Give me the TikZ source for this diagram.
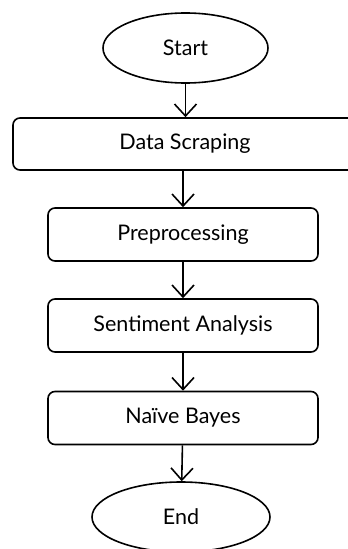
\documentclass[tikz,border=0pt]{standalone}
\usepackage{fontspec}
\setmainfont{Lato}
\usepackage{tikz}
\usetikzlibrary{arrows.meta,shapes.geometric}

\begin{document}
\begin{tikzpicture}[x=1pt,y=-1pt,line width=1.6pt,
  term/.style={ellipse,draw,minimum width=165pt,minimum height=70pt,inner sep=0pt,font=\fontsize{21.5}{25}\selectfont},
  proc/.style={rectangle,rounded corners=7pt,draw,minimum width=270pt,minimum height=53pt,inner sep=0pt,font=\fontsize{21.5}{25}\selectfont},
  flow/.style={-{Straight Barb[length=12pt,width=22pt,line width=1.6pt]}}]
\useasboundingbox (0,0) rectangle (348,549);
\node[term] (start) at (185.5,48) {Start};
\node[proc,minimum width=344pt,minimum height=52pt] (scrape) at (185,144) {Data Scraping};
\node[proc] (prep) at (183,234.5) {Preprocessing};
\node[proc] (senti) at (183,325.5) {Sentiment Analysis};
\node[proc] (naive) at (183,418) {Naïve Bayes};
\node[term,minimum width=178pt] (end) at (181,517) {End};
\draw[flow] (start) -- (start.south |- scrape.north);
\draw[flow] (scrape.south -| prep) -- (prep);
\draw[flow] (prep) -- (senti);
\draw[flow] (senti) -- (naive);
\draw[flow] (naive) -- (end);
\end{tikzpicture}
\end{document}
